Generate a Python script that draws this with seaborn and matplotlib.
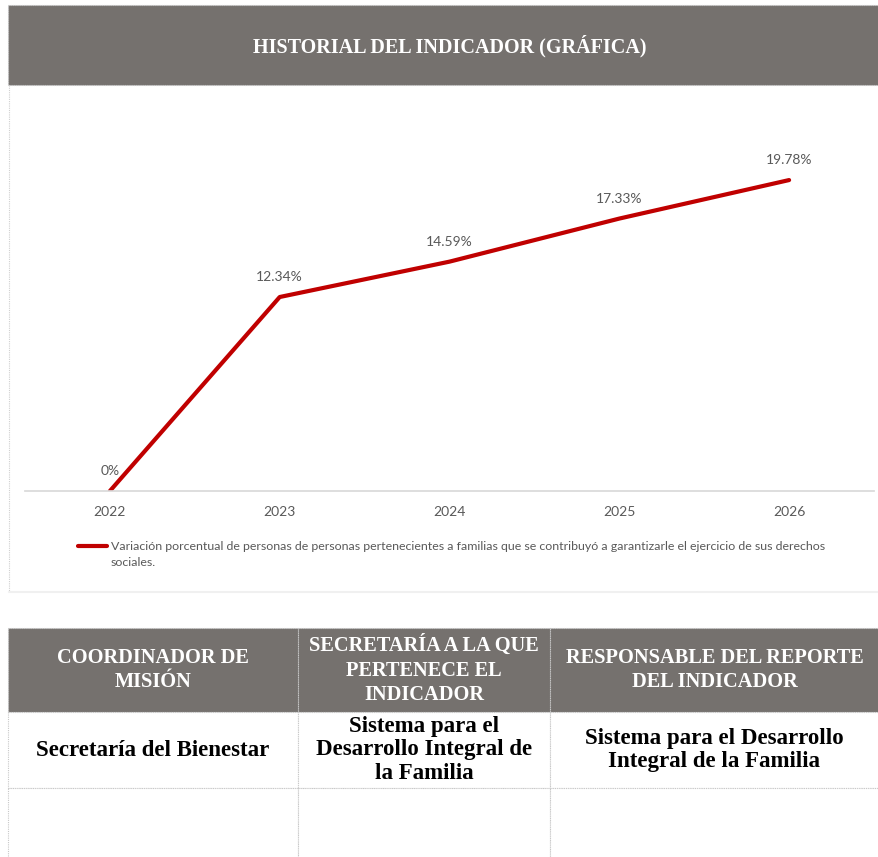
import matplotlib
matplotlib.use("Agg")
import matplotlib.pyplot as plt
import seaborn as sns
import pandas as pd
from matplotlib.patches import Rectangle

years = ["2022", "2023", "2024", "2025", "2026"]
values = [0.0, 12.34, 14.59, 17.33, 19.78]
value_labels = ["0%", "12.34%", "14.59%", "17.33%", "19.78%"]
series_name = ("Variación porcentual de personas de personas pertenecientes a familias que se "
               "contribuyó a garantizarle el ejercicio de sus derechos\nsociales.")
title = "HISTORIAL DEL INDICADOR (GRÁFICA)"
table_headers = ["COORDINADOR DE\nMISIÓN", "SECRETARÍA A LA QUE\nPERTENECE EL\nINDICADOR",
                 "RESPONSABLE DEL REPORTE\nDEL INDICADOR"]
table_values = ["Secretaría del Bienestar", "Sistema para el\nDesarrollo Integral de\nla Familia",
                "Sistema para el Desarrollo\nIntegral de la Familia"]

sns.set_theme(style="white")
plt.rcParams["font.family"] = ["Lato", "DejaVu Sans"]

W, H = 879, 857
GRAY = "#75716e"
RED = "#c00000"
TXT = "#595959"
slab = dict(family=["Liberation Serif", "DejaVu Serif"], fontweight="bold")

fig = plt.figure(figsize=(W / 100, H / 100), dpi=100)
fig.patch.set_facecolor("white")

# background layer in pixel coordinates
bg = fig.add_axes([0, 0, 1, 1])
bg.set_xlim(0, W)
bg.set_ylim(H, 0)
bg.axis("off")

dot = dict(edgecolor="#c8c8c8", linestyle=(0, (1, 1)), linewidth=0.8)
bg.add_patch(Rectangle((8, 5), W - 8, 80, facecolor=GRAY, **dot))
bg.text(450, 46, title, color="white", fontsize=14.5, ha="center", va="center", **slab)
bg.plot([9, 9], [85, 592], color="#d0d0d0", linestyle=(0, (1, 1)), linewidth=0.8)
bg.plot([9, W], [592, 592], color="#f0f0f0", linewidth=1.5)

# table
cols = [8, 298, 550, W]
rows = [628, 712, 788, H]
for i in range(3):
    x0, x1 = cols[i], cols[i + 1]
    bg.add_patch(Rectangle((x0, rows[0]), x1 - x0, rows[1] - rows[0], facecolor=GRAY, **dot))
    bg.add_patch(Rectangle((x0, rows[1]), x1 - x0, rows[2] - rows[1], facecolor="white", **dot))
    bg.add_patch(Rectangle((x0, rows[2]), x1 - x0, rows[3] - rows[2] + 5, facecolor="white", **dot))
    cx = (x0 + x1) / 2
    bg.text(cx, (rows[0] + rows[1]) / 2, table_headers[i], color="white", fontsize=14.7,
            ha="center", va="center", linespacing=1.3, **slab)
    bg.text(cx, (rows[1] + rows[2]) / 2, table_values[i], color="black", fontsize=16.5,
            ha="center", va="center", linespacing=1.18, **slab)

# chart
ax = fig.add_axes([25 / W, 1 - 491 / H, 849 / W, (491 - 98) / H])
df = pd.DataFrame({"year": years, "value": values})
sns.lineplot(data=df, x="year", y="value", color=RED, linewidth=3, ax=ax, legend=False)
ax.set_xlim(-0.5, 4.5)
ax.set_ylim(0, 25)
ax.set_facecolor("none")
for s in ["top", "right", "left"]:
    ax.spines[s].set_visible(False)
ax.spines["bottom"].set_color("#d9d9d9")
ax.set_yticks([])
ax.set_xlabel("")
ax.set_ylabel("")
ax.tick_params(axis="x", length=0, pad=11, labelsize=10, labelcolor=TXT)
for i, (v, lab) in enumerate(zip(values, value_labels)):
    ax.annotate(lab, (i, v), xytext=(0, 10), textcoords="offset points", ha="center",
                va="bottom", fontsize=10, color=TXT)

bg.plot([78, 107], [546, 546], color=RED, linewidth=3)
bg.text(111, 541, series_name, fontsize=8.9, color=TXT, ha="left", va="top",
        linespacing=1.6)

fig.savefig("out.png", dpi=100)
